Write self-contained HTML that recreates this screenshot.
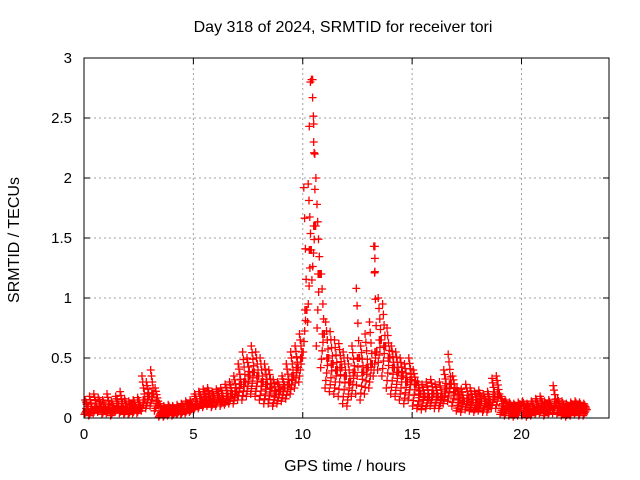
<!DOCTYPE html>
<html><head><meta charset="utf-8"><style>
body{margin:0;background:#fff;}
svg{display:block;font-family:"Liberation Sans",sans-serif;}
</style></head><body>
<svg id="chart" width="640" height="480" viewBox="0 0 640 480">
<rect width="640" height="480" fill="#fff"/>
<text x="343" y="32" font-size="16" text-anchor="middle">Day 318 of 2024, SRMTID for receiver tori</text>
<text x="345" y="471" font-size="16" text-anchor="middle">GPS time / hours</text>
<text transform="translate(19,240) rotate(-90)" font-size="16" text-anchor="middle">SRMTID / TECUs</text>
<g id="grid"></g><g id="marks"></g><g id="axes"></g>
</svg>
<script>
const xTicks=[0,5,10,15,20];
const yTicks=[0,0.5,1,1.5,2,2.5,3];
const yTickLabels=["0","0.5","1","1.5","2","2.5","3"];
const times=[0,0.2,0.4,0.6,0.8,1,1.2,1.4,1.6,1.8,2,2.2,2.4,2.6,2.8,3,3.2,3.4,3.6,3.8,4,4.2,4.4,4.6,4.8,5,5.2,5.4,5.6,5.8,6,6.2,6.4,6.6,6.8,7,7.2,7.4,7.6,7.8,8,8.2,8.4,8.6,8.8,9,9.2,9.4,9.6,9.8,10,10.2,10.4,10.6,10.8,11,11.2,11.4,11.6,11.8,12,12.2,12.4,12.6,12.8,13,13.2,13.4,13.6,13.8,14,14.2,14.4,14.6,14.8,15,15.2,15.4,15.6,15.8,16,16.2,16.4,16.6,16.8,17,17.2,17.4,17.6,17.8,18,18.2,18.4,18.6,18.8,19,19.2,19.4,19.6,19.8,20,20.2,20.4,20.6,20.8,21,21.2,21.4,21.6,21.8,22,22.2,22.4,22.6,22.8];
const midVals=[0.08,0.07,0.09,0.1,0.08,0.09,0.07,0.1,0.09,0.08,0.07,0.08,0.09,0.15,0.18,0.2,0.14,0.06,0.05,0.06,0.05,0.06,0.07,0.08,0.09,0.12,0.14,0.15,0.16,0.15,0.17,0.16,0.18,0.2,0.22,0.28,0.3,0.35,0.38,0.35,0.3,0.28,0.25,0.2,0.22,0.25,0.28,0.35,0.42,0.5,0.9,1.4,1.6,1.2,0.7,0.5,0.45,0.4,0.42,0.35,0.3,0.38,0.5,0.38,0.42,0.45,0.55,0.65,0.6,0.5,0.42,0.38,0.35,0.3,0.32,0.28,0.2,0.18,0.17,0.2,0.18,0.17,0.25,0.28,0.22,0.15,0.14,0.16,0.15,0.13,0.14,0.12,0.13,0.18,0.2,0.1,0.09,0.08,0.07,0.08,0.08,0.07,0.08,0.09,0.1,0.08,0.09,0.12,0.09,0.08,0.07,0.08,0.09,0.08,0.07];
const hiVals=[0.15,0.18,0.2,0.17,0.15,0.2,0.14,0.18,0.22,0.16,0.14,0.15,0.17,0.35,0.3,0.4,0.25,0.12,0.1,0.11,0.1,0.11,0.12,0.14,0.15,0.2,0.22,0.24,0.25,0.22,0.24,0.25,0.28,0.3,0.35,0.45,0.55,0.5,0.6,0.55,0.5,0.45,0.4,0.32,0.3,0.35,0.45,0.55,0.6,0.7,1.92,1.95,2.82,1.78,1.2,0.8,0.72,0.65,0.62,0.55,0.5,0.6,1.08,0.6,0.7,0.8,1.43,1.0,0.95,0.75,0.6,0.55,0.5,0.45,0.5,0.4,0.3,0.28,0.3,0.32,0.28,0.3,0.4,0.53,0.35,0.25,0.24,0.28,0.25,0.22,0.23,0.2,0.22,0.33,0.35,0.18,0.15,0.13,0.12,0.13,0.14,0.12,0.14,0.16,0.18,0.14,0.15,0.27,0.16,0.14,0.12,0.13,0.14,0.13,0.12];
const loVals=[0.03,0.02,0.04,0.05,0.03,0.04,0.02,0.05,0.04,0.03,0.03,0.04,0.04,0.06,0.08,0.1,0.06,0.01,0.01,0.02,0.02,0.03,0.03,0.04,0.05,0.07,0.08,0.09,0.1,0.09,0.1,0.1,0.11,0.12,0.12,0.15,0.15,0.18,0.2,0.18,0.15,0.12,0.12,0.1,0.12,0.14,0.16,0.2,0.25,0.3,0.55,0.8,1.15,0.6,0.42,0.25,0.22,0.2,0.18,0.12,0.1,0.18,0.2,0.15,0.2,0.25,0.35,0.4,0.35,0.25,0.2,0.18,0.15,0.12,0.15,0.1,0.08,0.07,0.08,0.1,0.08,0.08,0.12,0.14,0.1,0.06,0.05,0.07,0.06,0.05,0.06,0.05,0.05,0.08,0.08,0.03,0.02,0.02,0.01,0.02,0.02,0.01,0.02,0.03,0.04,0.02,0.03,0.04,0.03,0.02,0.01,0.02,0.03,0.02,0.02];
const peakTimes=[10.35,10.4,10.45,10.5,10.3,10.55,10.6,10.5,13.3,13.3,13.3];
const peakVals=[2.8,2.82,2.67,2.45,2.43,2.2,2.0,2.3,1.43,1.33,1.22];

const L=84,R=609,T=58,B=418,XMAX=24,YMAX=3;
const sx=v=>L+(R-L)*v/XMAX, sy=v=>B-(B-T)*v/YMAX;
const NS="http://www.w3.org/2000/svg";
function mk(tag,attrs,parent){const e=document.createElementNS(NS,tag);for(const k in attrs)e.setAttribute(k,attrs[k]);parent.appendChild(e);return e;}
const grid=document.getElementById('grid'),marks=document.getElementById('marks'),axes=document.getElementById('axes');
xTicks.forEach(v=>{
  if(v>0){const g=mk('line',{x1:sx(v),x2:sx(v),y1:T,y2:B,stroke:'#a0a0a0','stroke-dasharray':'2,3'},grid);
  
  }
  const t=mk('text',{x:sx(v),y:B+21,'font-size':15,'text-anchor':'middle'},axes);t.textContent=v;
  
  
  mk('line',{x1:sx(v),x2:sx(v),y1:B,y2:B-6,stroke:'#000'},axes);
  mk('line',{x1:sx(v),x2:sx(v),y1:T,y2:T+6,stroke:'#000'},axes);
});
yTicks.forEach((v,i)=>{
  if(v>0&&v<3){const g=mk('line',{x1:L,x2:R,y1:sy(v),y2:sy(v),stroke:'#a0a0a0','stroke-dasharray':'2,3'},grid);
  
  }
  const t=mk('text',{x:L-12,y:sy(v)+5,'font-size':15,'text-anchor':'end'},axes);t.textContent=yTickLabels[i];
  
  
  mk('line',{x1:L,x2:L+6,y1:sy(v),y2:sy(v),stroke:'#000'},axes);
  mk('line',{x1:R,x2:R-6,y1:sy(v),y2:sy(v),stroke:'#000'},axes);
});
const fr=mk('rect',{x:L,y:T,width:R-L,height:B-T,fill:'none',stroke:'#000'},axes);


let d='';
function plus(t,v){const x=sx(t),y=sy(v);d+=`M${(x-4).toFixed(1)} ${y.toFixed(1)}h8M${x.toFixed(1)} ${(y-4).toFixed(1)}v8`;}
const fr8=[0,0.25,0.5,0.75,1];
times.forEach((t,i)=>{
  const lo=loVals[i],mi=midVals[i],hi=hiVals[i];
  fr8.forEach((f,k)=>{
    plus(t+0.02+k*0.035,lo+(mi-lo)*f);
    plus(t+0.19-k*0.035,mi+(hi-mi)*f);
  });
  plus(t+0.1,mi);
});
peakTimes.forEach((t,i)=>plus(t,peakVals[i]));
const p=mk('path',{d:d,stroke:'#ff0000','stroke-width':1.3,fill:'none'},marks);


</script>
</body></html>
